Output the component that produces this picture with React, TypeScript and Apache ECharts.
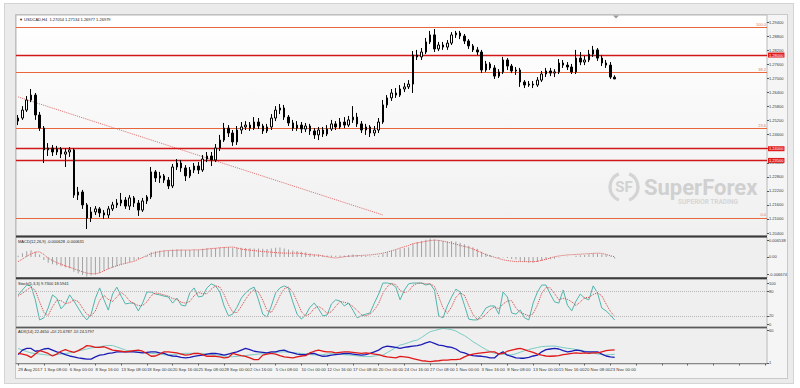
import React, { useEffect, useRef } from 'react';
import * as echarts from 'echarts';

const FONT = 'Liberation Sans';

const titleText = '\u25BC USDCAD,H4  1.27054 1.27134 1.26977 1.26979';
const macdTitle = 'MACD(12,26,9) -0.000628 -0.000631';
const stochTitle = 'Stoch(5,3,3) 9.7300 18.5941';
const adxTitle = 'ADX(14) 22.4650 +DI 21.6787 -DI 24.5797';

const xTickLabels = [
  '29 Aug 2017', '1 Sep 08:00', '6 Sep 00:00', '8 Sep 16:00', '13 Sep 08:00', '18 Sep 00:00',
  '20 Sep 16:00', '25 Sep 08:00', '28 Sep 00:00', '2 Oct 16:00', '5 Oct 08:00', '10 Oct 00:00',
  '12 Oct 16:00', '17 Oct 08:00', '20 Oct 00:00', '24 Oct 16:00', '27 Oct 08:00', '1 Nov 00:00',
  '3 Nov 16:00', '8 Nov 08:00', '13 Nov 00:00', '15 Nov 16:00', '20 Nov 08:00', '23 Nov 00:00',
];
const BARS_PER_LABEL = 6;
const SLOT_COUNT = 175;

// [open, close, low, high]
const candles: number[][] = [
  [1.2518,1.2531,1.2501,1.2544],[1.2531,1.2565,1.2523,1.2582],[1.2565,1.2608,1.2557,1.2625],[1.2608,1.2629,1.2599,1.2655],
  [1.2629,1.2544,1.2523,1.2638],[1.2544,1.2488,1.2476,1.2557],[1.2488,1.2395,1.2339,1.2497],[1.2395,1.2403,1.2369,1.2424],
  [1.2403,1.2386,1.2369,1.2416],[1.2386,1.2399,1.2373,1.2412],[1.2399,1.2377,1.2360,1.2407],[1.2377,1.2386,1.2322,1.2403],
  [1.2386,1.2395,1.2365,1.2407],[1.2395,1.2202,1.2190,1.2403],[1.2202,1.2215,1.2181,1.2237],[1.2215,1.2160,1.2143,1.2224],
  [1.2160,1.2104,1.2057,1.2168],[1.2104,1.2130,1.2087,1.2151],[1.2130,1.2143,1.2117,1.2155],[1.2143,1.2126,1.2108,1.2151],
  [1.2126,1.2117,1.2100,1.2138],[1.2117,1.2143,1.2104,1.2155],[1.2143,1.2160,1.2134,1.2173],[1.2160,1.2168,1.2147,1.2185],
  [1.2168,1.2181,1.2155,1.2211],[1.2181,1.2155,1.2143,1.2194],[1.2155,1.2190,1.2138,1.2202],[1.2190,1.2168,1.2151,1.2198],
  [1.2168,1.2138,1.2113,1.2181],[1.2138,1.2177,1.2130,1.2190],[1.2177,1.2194,1.2164,1.2202],[1.2194,1.2301,1.2185,1.2322],
  [1.2301,1.2275,1.2258,1.2309],[1.2275,1.2284,1.2254,1.2301],[1.2284,1.2266,1.2254,1.2292],[1.2266,1.2241,1.2228,1.2279],
  [1.2241,1.2322,1.2232,1.2335],[1.2322,1.2339,1.2309,1.2356],[1.2339,1.2318,1.2301,1.2352],[1.2318,1.2284,1.2262,1.2330],
  [1.2284,1.2309,1.2275,1.2322],[1.2309,1.2326,1.2296,1.2339],[1.2326,1.2309,1.2292,1.2343],[1.2309,1.2356,1.2301,1.2373],
  [1.2356,1.2369,1.2343,1.2386],[1.2369,1.2352,1.2326,1.2386],[1.2352,1.2403,1.2343,1.2420],[1.2403,1.2437,1.2390,1.2459],
  [1.2437,1.2488,1.2429,1.2510],[1.2488,1.2467,1.2450,1.2501],[1.2467,1.2429,1.2412,1.2480],[1.2429,1.2480,1.2416,1.2497],
  [1.2480,1.2493,1.2463,1.2514],[1.2493,1.2501,1.2480,1.2518],[1.2501,1.2488,1.2476,1.2514],[1.2488,1.2514,1.2480,1.2535],
  [1.2514,1.2497,1.2484,1.2531],[1.2497,1.2476,1.2463,1.2506],[1.2476,1.2493,1.2467,1.2506],[1.2493,1.2531,1.2480,1.2548],
  [1.2531,1.2565,1.2518,1.2582],[1.2565,1.2574,1.2548,1.2591],[1.2574,1.2535,1.2523,1.2587],[1.2535,1.2510,1.2497,1.2544],
  [1.2510,1.2488,1.2476,1.2523],[1.2488,1.2501,1.2476,1.2518],[1.2501,1.2484,1.2467,1.2514],[1.2484,1.2497,1.2471,1.2510],
  [1.2497,1.2476,1.2459,1.2506],[1.2476,1.2459,1.2442,1.2488],[1.2459,1.2480,1.2437,1.2493],[1.2480,1.2463,1.2450,1.2493],
  [1.2463,1.2484,1.2454,1.2501],[1.2484,1.2506,1.2476,1.2523],[1.2506,1.2493,1.2480,1.2518],[1.2493,1.2514,1.2484,1.2531],
  [1.2514,1.2501,1.2488,1.2535],[1.2501,1.2523,1.2493,1.2540],[1.2523,1.2535,1.2510,1.2582],[1.2535,1.2506,1.2493,1.2553],
  [1.2506,1.2480,1.2467,1.2518],[1.2480,1.2493,1.2459,1.2506],[1.2493,1.2467,1.2450,1.2501],[1.2467,1.2480,1.2454,1.2497],
  [1.2480,1.2514,1.2467,1.2531],[1.2514,1.2587,1.2506,1.2608],[1.2587,1.2617,1.2574,1.2629],[1.2617,1.2638,1.2604,1.2655],
  [1.2638,1.2629,1.2617,1.2659],[1.2629,1.2655,1.2621,1.2672],[1.2655,1.2664,1.2642,1.2681],[1.2664,1.2676,1.2655,1.2693],
  [1.2676,1.2800,1.2638,1.2817],[1.2800,1.2792,1.2779,1.2822],[1.2792,1.2813,1.2779,1.2830],[1.2813,1.2856,1.2804,1.2873],
  [1.2856,1.2886,1.2847,1.2903],[1.2886,1.2826,1.2813,1.2911],[1.2826,1.2843,1.2817,1.2856],[1.2843,1.2834,1.2822,1.2856],
  [1.2834,1.2851,1.2822,1.2864],[1.2851,1.2886,1.2843,1.2898],[1.2886,1.2894,1.2873,1.2903],[1.2894,1.2881,1.2868,1.2903],
  [1.2881,1.2860,1.2847,1.2890],[1.2860,1.2839,1.2826,1.2868],[1.2839,1.2822,1.2813,1.2847],[1.2822,1.2813,1.2800,1.2834],
  [1.2813,1.2736,1.2723,1.2822],[1.2736,1.2762,1.2728,1.2775],[1.2762,1.2745,1.2736,1.2770],[1.2745,1.2710,1.2698,1.2757],
  [1.2710,1.2728,1.2702,1.2740],[1.2728,1.2779,1.2719,1.2792],[1.2779,1.2753,1.2736,1.2787],[1.2753,1.2732,1.2723,1.2762],
  [1.2732,1.2736,1.2715,1.2749],[1.2736,1.2685,1.2664,1.2745],[1.2685,1.2672,1.2659,1.2693],[1.2672,1.2676,1.2664,1.2689],
  [1.2676,1.2672,1.2659,1.2689],[1.2672,1.2693,1.2664,1.2706],[1.2693,1.2719,1.2685,1.2732],[1.2719,1.2732,1.2706,1.2745],
  [1.2732,1.2723,1.2710,1.2745],[1.2723,1.2728,1.2706,1.2740],[1.2728,1.2766,1.2719,1.2783],[1.2766,1.2757,1.2745,1.2779],
  [1.2757,1.2749,1.2736,1.2770],[1.2749,1.2728,1.2719,1.2762],[1.2728,1.2787,1.2719,1.2822],[1.2787,1.2770,1.2757,1.2813],
  [1.2770,1.2779,1.2757,1.2796],[1.2779,1.2804,1.2770,1.2822],[1.2804,1.2822,1.2792,1.2839],[1.2822,1.2787,1.2775,1.2830],
  [1.2787,1.2766,1.2753,1.2800],[1.2766,1.2757,1.2745,1.2779],[1.2757,1.2706,1.2698,1.2770],[1.27054,1.26979,1.26977,1.27134],
];

const priceTicks = [1.204, 1.21, 1.216, 1.222, 1.228, 1.234, 1.24, 1.246, 1.252, 1.258, 1.264, 1.27, 1.276, 1.282, 1.288, 1.294];
const fiboValues = [1.2918, 1.2727, 1.2488, 1.2105];
const fiboLabels = ['100.0', '38.2', '23.6', '0.0'];
const redLevels = [1.28, 1.24, 1.235];
const currentPrice = 1.26979;
const trendLine = [[0, 1.2621], [85, 1.2117]];

const macdHist = [
  0.0005,0.0015,0.0022,0.0026,0.0020,0.0010,-0.0012,-0.0022,-0.0028,-0.0032,
  -0.0036,-0.0040,-0.0044,-0.0058,-0.0064,-0.0070,-0.0076,-0.0072,-0.0068,-0.0062,
  -0.0055,-0.0048,-0.0042,-0.0036,-0.0030,-0.0026,-0.0020,-0.0014,-0.0008,-0.0002,
  0.0004,0.0018,0.0022,0.0024,0.0025,0.0024,0.0028,0.0030,0.0029,0.0026,
  0.0027,0.0028,0.0027,0.0032,0.0034,0.0033,0.0035,0.0037,0.0039,0.0038,
  0.0036,0.0037,0.0036,0.0035,0.0034,0.0033,0.0033,0.0032,0.0031,0.0033,
  0.0036,0.0037,0.0033,0.0029,0.0025,0.0023,0.0020,0.0018,0.0015,0.0011,
  0.0010,0.0007,0.0006,0.0006,0.0005,0.0006,0.0006,0.0008,0.0010,0.0008,
  0.0005,0.0004,0.0002,0.0002,0.0005,0.0012,0.0018,0.0024,0.0027,0.0032,
  0.0035,0.0038,0.0052,0.0058,0.0062,0.0067,0.0072,0.0068,0.0065,0.0062,
  0.0060,0.0062,0.0060,0.0056,0.0050,0.0044,0.0038,0.0032,0.0020,0.0014,
  0.0008,0.0000,-0.0004,-0.0002,-0.0004,-0.0008,-0.0010,-0.0016,-0.0020,-0.0022,
  -0.0022,-0.0020,-0.0016,-0.0012,-0.0009,-0.0007,-0.0002,0.0000,0.0001,0.0000,
  0.0005,0.0007,0.0008,0.0011,0.0014,0.0013,0.0011,0.0009,0.0002,-0.0006,
];
const macdSignal = [
  -0.0018,-0.0008,0.0003,0.0012,0.0019,0.0020,0.0010,-0.0005,-0.0014,-0.0022,
  -0.0028,-0.0035,-0.0040,-0.0046,-0.0052,-0.0058,-0.0063,-0.0065,-0.0066,-0.0062,
  -0.0054,-0.0046,-0.0040,-0.0034,-0.0029,-0.0025,-0.0021,-0.0017,-0.0009,-0.0002,
  0.0006,0.0013,0.0017,0.0021,0.0024,0.0025,0.0026,0.0026,0.0027,0.0027,
  0.0027,0.0028,0.0028,0.0029,0.0031,0.0033,0.0034,0.0036,0.0037,0.0038,
  0.0039,0.0035,0.0031,0.0028,0.0027,0.0025,0.0023,0.0021,0.0020,0.0019,
  0.0017,0.0016,0.0015,0.0015,0.0015,0.0015,0.0014,0.0011,0.0009,0.0008,
  0.0007,0.0004,0.0001,-0.0002,-0.0004,-0.0002,0.0001,0.0003,0.0004,0.0005,
  0.0006,0.0007,0.0008,0.0010,0.0012,0.0015,0.0019,0.0024,0.0029,0.0035,
  0.0040,0.0045,0.0052,0.0055,0.0058,0.0061,0.0064,0.0066,0.0065,0.0062,
  0.0058,0.0054,0.0050,0.0045,0.0041,0.0037,0.0031,0.0024,0.0017,0.0009,
  0.0004,-0.0001,-0.0006,-0.0011,-0.0014,-0.0016,-0.0018,-0.0018,-0.0018,-0.0018,
  -0.0018,-0.0017,-0.0013,-0.0009,-0.0004,0.0001,0.0004,0.0006,0.0008,0.0009,
  0.0010,0.0011,0.0012,0.0013,0.0014,0.0015,0.0014,0.0010,0.0005,0.0001,
];
const macdTicks = [-0.006674, 0, 0.006538];

const stochMain = [
  71,83,95,93,59,10,15,39,71,63, 37,49,71,56,39,22,10,24,63,88,
  59,34,73,90,68,49,51,51,32,51, 78,78,73,71,68,66,51,63,46,44,
  76,88,66,68,88,98,93,78,44,20, 24,41,63,76,85,90,59,24,17,44,
  76,88,93,88,54,24,12,22,41,51, 37,20,22,49,59,56,44,51,34,15,
  20,24,27,51,73,100,100,98,90,59, 83,98,100,100,100,95,98,83,20,15,
  44,66,85,78,46,12,10,10,22,39, 44,44,24,78,66,27,24,34,15,10,
  51,78,95,95,73,54,51,83,46,32, 56,73,63,59,93,76,39,32,22,9.73,
];
const stochSignal = [
  68,75,83,90,82,54,28,21,42,58, 57,50,52,59,55,39,24,19,32,58,
  70,60,55,66,77,69,56,50,45,45, 54,69,76,74,71,68,62,60,53,51,
  55,69,77,74,74,85,93,90,72,47, 29,28,43,60,75,84,78,58,33,28,
  46,69,86,90,78,55,30,19,25,38, 43,36,26,30,43,55,53,50,43,33,
  23,20,24,34,50,75,91,99,96,82, 77,80,94,99,100,98,98,92,67,39,
  26,42,65,76,70,45,23,11,14,24, 35,42,37,49,56,57,39,28,24,20,
  25,46,75,89,88,74,59,63,60,54, 45,54,64,65,72,76,69,49,31,18.59,
];
const stochTicks = [0, 20, 80, 100];
const stochLevels = [20, 80];

const adxMain = [
  27,24,21.5,19,18,17,16,15,15,16, 17,18,19,20.6,22.4,24,26,28,29,30,
  31.4,32.3,32.3,29.6,27,24,22.4,21,20.6,19.7, 18.9,18.3,17.5,16.6,15.7,15.3,16,17,18,18.3,
  18.3,18.3,18.3,18,17,16,15.3,14.4,13.5,12.6, 12.2,13,13.5,14.4,15.3,16,17,17.6,18.3,19.2,
  20,20.6,21,20.3,19.4,18.7,18.1,17.2,16,15.4, 15.3,15.9,17,17.7,17.4,16.6,15.8,15.3,14.8,13.8,
  13,12.4,12.4,13.5,14.4,15.3,19.7,24,28.5,33, 35,37.5,40.3,42,46.6,52,57,59,61,63,
  61.8,60.7,58.2,53.7,50,44.8,39,34.4,29.6,25, 21.5,18.3,17.5,16.6,15.7,15.5,17.4,20.3,22.8,25,
  27,28.7,30.3,30.9,31.2,31.4,30,28.5,27.3,26.4, 25.1,24.2,22.3,20.5,18.3,17.1,16,15.3,15.9,16.6,
];
const plusDI = [
  16,24,27,27,22,23,26,27,24,21, 19,16,13.5,12,10,9,8,8,12,15,
  16,18,19,21,21,21,21,21,20,19, 20,21,21,19,18,15,13.5,13,11,10,
  11,13,14,15,17,18,18,17,15,17, 19,21,24,27,25,22,21,20,19,21,
  21,23,24,21,19,17,16,16,18,18, 15,13,13.5,15,16,17,18,18,17,16,
  15,16,18,21,24,29,31,30,29,27, 29,30,31,32,34,37,39,36,33,32,
  30,29,26,21,19,16,14,13.5,13,12, 10,10,17,21,15,13,10,9.5,9.5,11,
  13.5,15,21,25,26,27,26,23,21,22, 24,23,21,21,21,21,17,13.5,12,11,
];
const minusDI = [
  18,17,15,11,17,23,21,18,13.5,17, 22,25,22,20,23,27,32,31,29,29,
  30,27,24,23,22,21,22,23,24,22, 18,13,13.5,17,21,21,20,19,17,15,
  16,18,18,16,13,13,13,12,10,11, 18,16,14,13,10,7,7,15,17,18,
  17,14,12,11,10,12,13.5,14,19,22, 24,22,21,21,19,20,21,21,20,19,
  18,19,18,17,16,13.5,12,11,10,13, 12,11,9,7,5,4.5,3.5,4.5,5,6,
  6,7,7,8,12,15,17,18,19,20, 21,21,17,18,22,24,26,27,25,22,
  20,17,15,13.5,13,13.5,14,16,17,18, 19,18,19,18,19,19,21,23,24,24.58,
];
const adxTicks = [1, 60];

const slots = Array.from({ length: SLOT_COUNT }, (_, i) => String(i));

function levelSeries(value: number, lineStyle: any, label: any, z: number) {
  return {
    type: 'line',
    xAxisIndex: 0,
    yAxisIndex: 0,
    data: [] as number[],
    symbol: 'none',
    z,
    markLine: {
      silent: true,
      precision: 5,
      symbol: ['none', 'none'],
      lineStyle,
      label,
      data: [{ yAxis: value }],
    },
  };
}

function buildOption(): any {
  const L = 16;
  const W = 751;
  const mkX = (gi: number, show: boolean) => ({
    type: 'category',
    gridIndex: gi,
    data: slots,
    boundaryGap: true,
    axisLine: { show, lineStyle: { color: '#8a8a8a', width: 1 } },
    axisTick: { show, interval: BARS_PER_LABEL - 1, length: 2, alignWithLabel: true, lineStyle: { color: '#666' } },
    axisLabel: {
      show,
      interval: BARS_PER_LABEL - 1,
      formatter: (_v: string, idx: number) => xTickLabels[idx / BARS_PER_LABEL] ?? '',
      fontSize: 4.3,
      color: '#3a3a3a',
      align: 'left',
      margin: 3,
      fontFamily: FONT,
    },
    splitLine: { show: false },
  });
  const mkY = (gi: number, min: number, max: number, ticks: number[], fmt: (v: number) => string) => ({
    type: 'value',
    gridIndex: gi,
    position: 'right',
    min,
    max,
    axisLine: { show: false },
    axisTick: { show: true, customValues: ticks, length: 2, lineStyle: { color: '#555' } },
    axisLabel: { show: true, customValues: ticks, formatter: fmt, fontSize: 4, color: '#3a3a3a', margin: 2, fontFamily: FONT },
    splitLine: { show: false },
  });
  const panelBg = '#efefef';
  const gridBorder = '#b8b8b8';

  const fiboSeries = fiboValues.map((v, k) =>
    levelSeries(
      v,
      { color: '#e8663c', width: 1, type: 'solid', opacity: 1 },
      { show: true, position: 'insideEndTop', formatter: fiboLabels[k], color: '#e27a55', fontSize: 4, distance: 1, fontFamily: FONT },
      4,
    ),
  );
  const redSeries = redLevels.map((v) =>
    levelSeries(
      v,
      { color: '#d01818', width: 1.3, type: 'solid', opacity: 1 },
      {
        show: true, position: 'end', formatter: v.toFixed(5), color: '#ffffff', backgroundColor: '#e01b1b',
        padding: [1, 1, 0, 1], fontSize: 4, distance: 1, fontFamily: FONT,
      },
      5,
    ),
  );
  const currentSeries = levelSeries(
    currentPrice,
    { color: '#000', width: 0, opacity: 0 },
    {
      show: true, position: 'end', formatter: currentPrice.toFixed(5), color: '#ffffff', backgroundColor: '#000000',
      padding: [1, 1, 0, 1], fontSize: 4, distance: 1, offset: [0, 4.5], fontFamily: FONT,
    },
    6,
  );

  return {
    animation: false,
    grid: [
      {
        left: L, top: 15, width: W, height: 221, show: true, borderColor: gridBorder, borderWidth: 1,
        backgroundColor: new echarts.graphic.LinearGradient(0, 0, 0, 1, [
          { offset: 0, color: '#ffffff' },
          { offset: 1, color: '#f0f0f0' },
        ]),
      },
      { left: L, top: 237, width: W, height: 41, show: true, borderColor: gridBorder, borderWidth: 1, backgroundColor: panelBg },
      { left: L, top: 279, width: W, height: 48, show: true, borderColor: gridBorder, borderWidth: 1, backgroundColor: panelBg },
      { left: L, top: 328, width: W, height: 36, show: true, borderColor: gridBorder, borderWidth: 1, backgroundColor: panelBg },
    ],
    xAxis: [mkX(0, false), mkX(1, false), mkX(2, false), mkX(3, true)],
    yAxis: [
      mkY(0, 1.20273, 1.2971, priceTicks, (v) => v.toFixed(5)),
      mkY(1, -0.0082, 0.0078, macdTicks, (v) => (v === 0 ? '0.00' : String(v))),
      mkY(2, -7.3, 109.8, stochTicks, (v) => String(v)),
      mkY(3, -0.83, 63.58, adxTicks, (v) => String(v)),
    ],
    series: [
      ...fiboSeries,
      ...redSeries,
      currentSeries,
      {
        type: 'candlestick',
        xAxisIndex: 0,
        yAxisIndex: 0,
        data: candles,
        barWidth: 2,
        itemStyle: { color: '#ffffff', color0: '#000000', borderColor: '#000000', borderColor0: '#000000', borderWidth: 1 },
        z: 8,
      },
      {
        type: 'line',
        xAxisIndex: 0,
        yAxisIndex: 0,
        data: trendLine,
        symbol: 'none',
        lineStyle: { color: '#e06a6a', width: 1, type: 'dotted' },
        z: 3,
      },
      {
        type: 'bar',
        xAxisIndex: 1,
        yAxisIndex: 1,
        data: macdHist,
        barWidth: 1,
        itemStyle: { color: '#a2a2a2' },
      },
      {
        type: 'line',
        xAxisIndex: 1,
        yAxisIndex: 1,
        data: macdSignal,
        symbol: 'none',
        lineStyle: { color: '#e05050', width: 1, type: 'dotted' },
      },
      {
        type: 'line',
        xAxisIndex: 2,
        yAxisIndex: 2,
        data: stochMain,
        symbol: 'none',
        lineStyle: { color: '#4fb5ac', width: 1 },
        markLine: {
          silent: true,
          symbol: ['none', 'none'],
          data: stochLevels.map((v) => ({ yAxis: v })),
          lineStyle: { color: '#b8b8b8', type: 'dotted', width: 1 },
          label: { show: false },
        },
      },
      {
        type: 'line',
        xAxisIndex: 2,
        yAxisIndex: 2,
        data: stochSignal,
        symbol: 'none',
        lineStyle: { color: '#cf4545', width: 1, type: 'dotted' },
      },
      {
        type: 'line',
        xAxisIndex: 3,
        yAxisIndex: 3,
        data: adxMain,
        symbol: 'none',
        lineStyle: { color: '#79cbc2', width: 1 },
      },
      {
        type: 'line',
        xAxisIndex: 3,
        yAxisIndex: 3,
        data: plusDI,
        symbol: 'none',
        lineStyle: { color: '#1c1cb5', width: 1.3 },
      },
      {
        type: 'line',
        xAxisIndex: 3,
        yAxisIndex: 3,
        data: minusDI,
        symbol: 'none',
        lineStyle: { color: '#e01818', width: 1.3 },
      },
    ],
    graphic: [
      { type: 'arc', shape: { cx: 624, cy: 187, r: 14, startAngle: Math.PI * 0.62, endAngle: Math.PI * 1.38 }, style: { stroke: '#d4d4d4', lineWidth: 3.5, fill: 'none' }, z: 1 },
      { type: 'arc', shape: { cx: 624, cy: 187, r: 14, startAngle: -Math.PI * 0.38, endAngle: Math.PI * 0.38 }, style: { stroke: '#d4d4d4', lineWidth: 3.5, fill: 'none' }, z: 1 },
      { type: 'text', x: 624, y: 187, style: { text: 'SF', fontSize: 15, fontWeight: 'bold', fontFamily: 'Roboto', fill: '#d2d2d2', align: 'center', verticalAlign: 'middle' }, z: 1 },
      { type: 'text', x: 644, y: 187, style: { text: 'SuperForex', fontSize: 22, fontWeight: 'bold', fontFamily: 'Roboto', fill: '#d0d0d0', align: 'left', verticalAlign: 'middle' }, z: 1 },
      { type: 'text', x: 678, y: 202, style: { text: 'SUPERIOR TRADING', fontSize: 6.5, fontWeight: 'bold', fontFamily: 'Roboto', fill: '#d6d6d6', align: 'left', verticalAlign: 'middle' }, z: 1 },
      { type: 'line', shape: { x1: 16, y1: 236.5, x2: 767, y2: 236.5 }, style: { stroke: '#3a3a3a', lineWidth: 2 }, z: 50 },
      { type: 'line', shape: { x1: 16, y1: 278.2, x2: 767, y2: 278.2 }, style: { stroke: '#3a3a3a', lineWidth: 2 }, z: 50 },
      { type: 'line', shape: { x1: 16, y1: 327.6, x2: 767, y2: 327.6 }, style: { stroke: '#5a5a5a', lineWidth: 1.5 }, z: 50 },
      { type: 'polygon', shape: { points: [[613, 15.5], [619, 15.5], [616, 18.5]] }, style: { fill: '#9a9a9a' }, z: 50 },
      { type: 'text', x: 19, y: 19.5, style: { text: titleText, fontSize: 4, fontFamily: FONT, fill: '#222', verticalAlign: 'middle' }, z: 50 },
      { type: 'text', x: 18, y: 241.5, style: { text: macdTitle, fontSize: 4, fontFamily: FONT, fill: '#222', verticalAlign: 'middle' }, z: 50 },
      { type: 'text', x: 18, y: 283, style: { text: stochTitle, fontSize: 4, fontFamily: FONT, fill: '#222', verticalAlign: 'middle' }, z: 50 },
      { type: 'text', x: 18, y: 331.5, style: { text: adxTitle, fontSize: 4, fontFamily: FONT, fill: '#222', verticalAlign: 'middle' }, z: 50 },
    ],
  };
}

export default function App() {
  const ref = useRef<HTMLDivElement>(null);
  useEffect(() => {
    if (!ref.current) return;
    const chart = echarts.init(ref.current, undefined, { renderer: 'svg' });
    chart.setOption(buildOption());
    return () => chart.dispose();
  }, []);
  return (
    <div style={{ position: 'fixed', left: 0, top: 0, width: 800, height: 388, background: '#ffffff', overflow: 'hidden' }}>
      <div style={{ position: 'absolute', left: 4, top: 3, width: 790, height: 381, background: '#ebebeb', border: '1px solid #d4d4d4', boxSizing: 'border-box' }} />
      <div style={{ position: 'absolute', left: 15, top: 14, width: 773, height: 365, background: '#f5f5f5', border: '1px solid #c8c8c8', boxSizing: 'border-box' }} />
      <div ref={ref} style={{ position: 'absolute', left: 0, top: 0, width: 800, height: 388 }} />
    </div>
  );
}
